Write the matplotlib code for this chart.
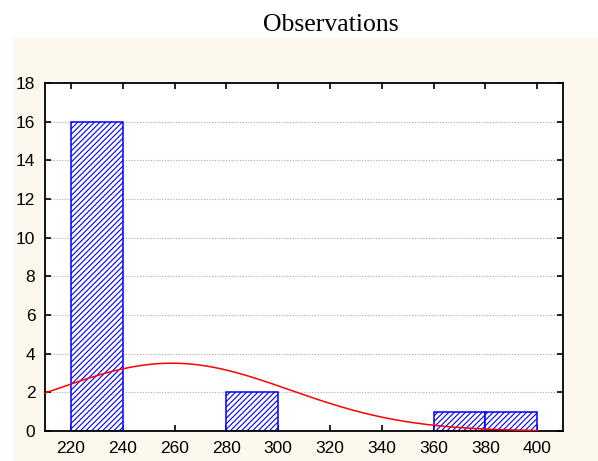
import numpy as np
import matplotlib
matplotlib.use("Agg")
import matplotlib.pyplot as plt
from matplotlib.patches import Rectangle

# Data
bin_left = [220, 280, 360, 380]
bin_width = 20
counts = [16, 2, 1, 1]
x_ticks = [220, 240, 260, 280, 300, 320, 340, 360, 380, 400]
y_ticks = [0, 2, 4, 6, 8, 10, 12, 14, 16, 18]
title = "Observations"
# fitted normal curve parameters
fit_mean = 259
fit_sd = 45.5
n_obs = 20

plt.rcParams['hatch.linewidth'] = 0.8
plt.rcParams['hatch.color'] = '#0000ff'

fig = plt.figure(figsize=(5.98, 4.61), dpi=100)
fig.patch.set_facecolor('white')
fig.patches.append(Rectangle((13/598, 0), 1 - 13/598, (461-38)/461,
                             transform=fig.transFigure, facecolor='#fdf8ee',
                             edgecolor='none', zorder=-10))

ax = fig.add_axes([45/598, 30/461, (563-45)/598, (431-83)/461])
ax.set_facecolor('white')

ax.bar(bin_left, counts, width=bin_width, align='edge', facecolor='white',
       edgecolor='#0000ff', hatch='//////', linewidth=1.1, zorder=2)

xs = np.linspace(210, 400, 400)
ys = n_obs * bin_width * np.exp(-0.5 * ((xs - fit_mean) / fit_sd) ** 2) / (fit_sd * np.sqrt(2 * np.pi))
ax.plot(xs, ys, color='#ff0000', linewidth=1.1, zorder=3)

ax.set_xlim(210, 410)
ax.set_ylim(0, 18)
ax.set_xticks(x_ticks)
ax.set_yticks(y_ticks)
for yv in y_ticks[1:-1]:
    ax.axhline(yv, color='#a8a8a8', linestyle=(0, (1, 1.5)), linewidth=0.8, zorder=1)

ax.tick_params(direction='in', length=4, width=1.2, top=True, right=True,
               labelsize=12.5, pad=7, colors='black')
for lab in ax.get_xticklabels() + ax.get_yticklabels():
    lab.set_fontfamily('Liberation Sans')
for s in ax.spines.values():
    s.set_linewidth(1.3)
    s.set_color('black')

fig.text(331/598, (461-31)/461, title, ha='center', va='baseline',
         fontsize=18.5, family='Liberation Serif')

fig.savefig('out.png', dpi=100, facecolor=fig.get_facecolor())
